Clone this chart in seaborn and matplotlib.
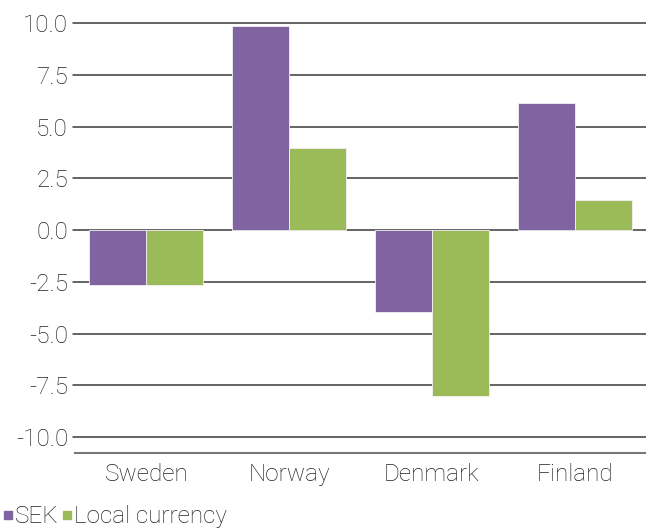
import matplotlib
matplotlib.use("Agg")
import matplotlib.pyplot as plt
from matplotlib.lines import Line2D
import seaborn as sns
import pandas as pd

countries = ["Sweden", "Norway", "Denmark", "Finland"]
sek = [-2.65, 9.85, -3.95, 6.12]
local = [-2.65, 3.97, -8.02, 1.45]
series_names = ["SEK", "Local currency"]
colors = ["#8064A2", "#9BBB59"]
yticks = [10.0, 7.5, 5.0, 2.5, 0.0, -2.5, -5.0, -7.5, -10.0]

df = pd.DataFrame({
    "country": countries * 2,
    "value": sek + local,
    "series": [series_names[0]] * 4 + [series_names[1]] * 4,
})

sns.set_theme(style="white")
plt.rcParams["font.family"] = ["Roboto", "DejaVu Sans"]
plt.rcParams["font.weight"] = "light"

fig = plt.figure(figsize=(6.46, 5.28), dpi=100)
ax = fig.add_axes([75 / 646, (528 - 453) / 528, (646 - 75) / 646, (453 - 18) / 528])

sns.barplot(data=df, x="country", y="value", hue="series", palette=colors,
            saturation=1, width=0.8, ax=ax, legend=False, edgecolor="#f4f0f8",
            linewidth=0.6, zorder=3)

ax.set_ylim(-10.77, 10.25)
ax.set_xlim(-0.5, 3.5)
ax.set_yticks(yticks)
ax.set_yticklabels([f"{t:.1f}" for t in yticks])
for t in yticks:
    ax.axhline(t, color="#3a3a3a", linewidth=1.1, zorder=1, xmin=-0.004, clip_on=False)
ax.set_xlabel("")
ax.set_ylabel("")
for s in ["top", "right", "left"]:
    ax.spines[s].set_visible(False)
ax.spines["bottom"].set_color("#777777")
ax.spines["bottom"].set_linewidth(1.5)
ax.tick_params(axis="y", length=0, pad=5, labelsize=17.5, labelcolor="#222222")
ax.tick_params(axis="x", length=0, pad=7, labelsize=17.5, labelcolor="#222222")

handles = [Line2D([0], [0], marker="s", linestyle="none", markersize=6,
                  markerfacecolor=c, markeredgecolor=c) for c in colors]
fig.legend(handles, series_names, loc="lower left", bbox_to_anchor=(-0.02, -0.028),
           ncol=2, frameon=False, fontsize=17.5, handlelength=0.5,
           handletextpad=0.05, columnspacing=0.1, borderaxespad=0.2,
           labelcolor="#222222")

fig.savefig("out.png", dpi=100)
